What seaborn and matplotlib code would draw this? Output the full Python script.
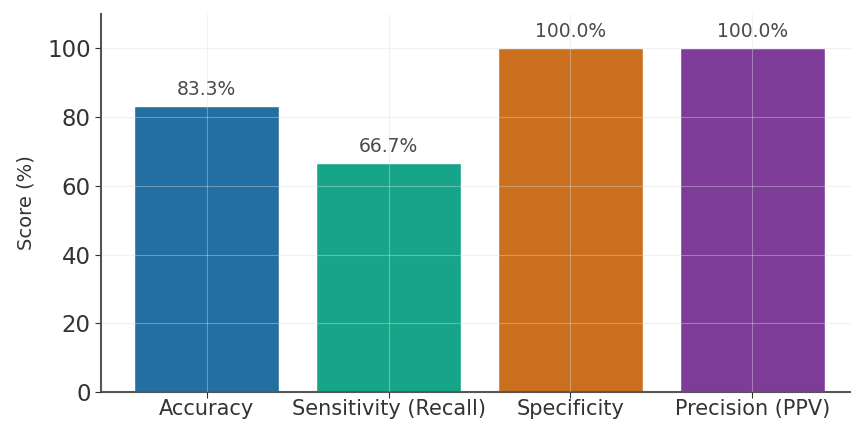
import matplotlib
matplotlib.use("Agg")
import matplotlib.pyplot as plt
import seaborn as sns
import pandas as pd

# 지표와 점수
metrics = ["Accuracy", "Sensitivity (Recall)", "Specificity", "Precision (PPV)"]
scores = [83.3, 66.7, 100.0, 100.0]
colors = ["#236fa1", "#17a589", "#ca6f1e", "#7d3c98"]

df = pd.DataFrame({"Metric": metrics, "Score": scores})

sns.set_style("whitegrid", {"grid.color": "#e6e6e6", "axes.edgecolor": "#555555"})
plt.rcParams["font.family"] = ["DejaVu Sans"]

fig = plt.figure(figsize=(8.51, 4.21), dpi=100)
ax = fig.add_axes([101 / 851, 29 / 421, 757 / 851, 378 / 421])

sns.barplot(data=df, x="Metric", y="Score", hue="Metric", palette=colors,
            width=0.8, legend=False, ax=ax, saturation=1)

for i, v in enumerate(scores):
    ax.text(i, v + 2, f"{v:.1f}%", ha="center", va="bottom", fontsize=13.5, color="#4a4a4a")

ax.set_ylim(0, 110)
ax.set_xlim(-0.58, 3.58)
ax.set_yticks([0, 20, 40, 60, 80, 100])
ax.set_xlabel("")
ax.set_ylabel("Score (%)", fontsize=14, color="#333333", labelpad=8)
ax.tick_params(axis="y", labelsize=16.5, colors="#333333", length=4, left=True)
ax.tick_params(axis="x", labelsize=15, colors="#333333", length=4, bottom=True, pad=1)

# 격자선은 막대 위에 옅게
ax.set_axisbelow(False)
ax.grid(True, axis="both", color="#dddddd", linewidth=0.8, alpha=0.4)
for s in ["top", "right"]:
    ax.spines[s].set_visible(False)
for s in ["left", "bottom"]:
    ax.spines[s].set_linewidth(1.5)
    ax.spines[s].set_color("#555555")

fig.savefig("out.png", dpi=100)
